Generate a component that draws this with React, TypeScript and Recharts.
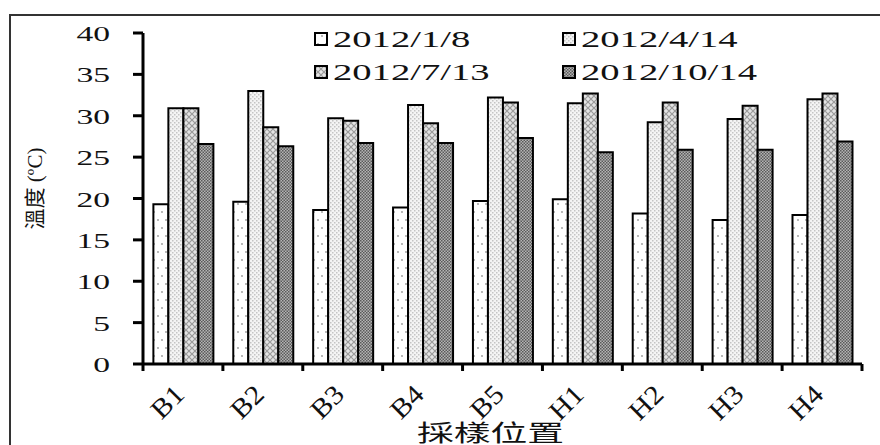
import React from 'react'
import { BarChart, Bar, XAxis, YAxis, Legend } from 'recharts'

const categories = ['B1', 'B2', 'B3', 'B4', 'B5', 'H1', 'H2', 'H3', 'H4']
const seriesNames = ['2012/1/8', '2012/4/14', '2012/7/13', '2012/10/14']
const jan = [19.3, 19.6, 18.6, 18.9, 19.7, 19.9, 18.2, 17.4, 18.0]
const apr = [30.9, 33.0, 29.7, 31.3, 32.2, 31.5, 29.2, 29.6, 32.0]
const jul = [30.9, 28.6, 29.4, 29.1, 31.6, 32.7, 31.6, 31.2, 32.7]
const oct = [26.6, 26.3, 26.7, 26.7, 27.3, 25.6, 25.9, 25.9, 26.9]
const yTicks = [0, 5, 10, 15, 20, 25, 30, 35, 40]

const data = categories.map((site, i) => ({
    site,
    s0: jan[i],
    s1: apr[i],
    s2: jul[i],
    s3: oct[i]
}))

const FONT = '"Liberation Serif", "Noto Sans CJK TC", serif'
const fills = ['url(#patDots)', 'url(#patFine)', 'url(#patCross)', 'url(#patChecker)']

const YTick = ({ x, y, payload }: any) => (
    <text
        transform={`translate(${x},${y + 8}) scale(1.6,1)`}
        textAnchor="end"
        fontSize={21}
        fontFamily={FONT}
        fill="#111"
    >
        {payload.value}
    </text>
)

// rotated label plus Excel-style tick marks on the category boundaries
const XTick = ({ x, y, payload, index, width, visibleTicksCount }: any) => {
    const half = width / visibleTicksCount / 2
    const last = index === visibleTicksCount - 1
    return (
        <g>
            <line x1={x - half} y1={y} x2={x - half} y2={y + 7} stroke="#000" strokeWidth={3} />
            {last && <line x1={x + half} y1={y} x2={x + half} y2={y + 7} stroke="#000" strokeWidth={3} />}
            <text
                transform={`translate(${x + 3},${y + 32}) rotate(-45) scale(1.1,1)`}
                textAnchor="end"
                fontSize={27}
                fontFamily={FONT}
                fill="#111"
            >
                {payload.value}
            </text>
        </g>
    )
}

// legend laid out as a 2x2 grid, like the original
const renderLegend = () => (
    <svg width={880} height={90}>
        {seriesNames.map((name, i) => {
            const cx = i % 2 === 0 ? 315 : 563
            const cy = i < 2 ? 39 : 72
            return (
                <g key={name}>
                    <rect x={cx} y={cy - 6} width={12} height={12} fill={fills[i]} stroke="#000" strokeWidth={2} />
                    <text
                        transform={`translate(${cx + 18},${cy + 8}) scale(1.68,1)`}
                        fontSize={23}
                        fontFamily={FONT}
                        fill="#111"
                    >
                        {name}
                    </text>
                </g>
            )
        })}
    </svg>
)

export default function App() {
    return (
        <div style={{ position: 'relative', width: 880, height: 445, overflow: 'hidden', background: '#fff' }}>
            <style>{'body{margin:0}'}</style>
            <div
                style={{
                    position: 'absolute',
                    left: 9,
                    top: 14,
                    width: 900,
                    height: 500,
                    borderLeft: '2px solid #333',
                    borderTop: '2px solid #333'
                }}
            />
            <BarChart
                width={880}
                height={445}
                data={data}
                margin={{ top: 33, right: 18, left: 0, bottom: 0 }}
                barCategoryGap="13%"
                barGap={0}
            >
                <defs>
                    <pattern id="patDots" width={8} height={16} patternUnits="userSpaceOnUse">
                        <rect width={8} height={16} fill="#fff" />
                        <circle cx={2} cy={4} r={0.9} fill="#999" />
                        <circle cx={6} cy={12} r={0.9} fill="#999" />
                    </pattern>
                    <pattern id="patFine" width={4} height={4} patternUnits="userSpaceOnUse">
                        <rect width={4} height={4} fill="#f4f4f4" />
                        <rect x={0} y={0} width={1.5} height={1.5} fill="#c4c4c4" />
                        <rect x={2} y={2} width={1.5} height={1.5} fill="#c4c4c4" />
                    </pattern>
                    <pattern id="patCross" width={6} height={6} patternUnits="userSpaceOnUse">
                        <rect width={6} height={6} fill="#e4e4e4" />
                        <path d="M0,0 L6,6 M6,0 L0,6" stroke="#999" strokeWidth={1.2} />
                    </pattern>
                    <pattern id="patChecker" width={3} height={3} patternUnits="userSpaceOnUse">
                        <rect width={3} height={3} fill="#b4b4b4" />
                        <rect x={0} y={0} width={1.5} height={1.5} fill="#5a5a5a" />
                        <rect x={1.5} y={1.5} width={1.5} height={1.5} fill="#5a5a5a" />
                    </pattern>
                </defs>
                <XAxis
                    dataKey="site"
                    height={81}
                    tickLine={false}
                    tickSize={0}
                    tickMargin={0}
                    axisLine={{ stroke: '#000', strokeWidth: 3 }}
                    tick={<XTick />}
                    interval={0}
                    label={({ viewBox }: any) => (
                        <text
                            transform={`translate(${viewBox.x + viewBox.width / 2 - 12},${441}) scale(1.6,1)`}
                            textAnchor="middle"
                            fontSize={23}
                            fontFamily={FONT}
                            fill="#111"
                        >
                            採樣位置
                        </text>
                    )}
                />
                <YAxis
                    width={143}
                    domain={[0, 40]}
                    ticks={yTicks}
                    interval={0}
                    tickSize={10}
                    tickMargin={23}
                    axisLine={{ stroke: '#000', strokeWidth: 3 }}
                    tickLine={{ stroke: '#000', strokeWidth: 3 }}
                    tick={<YTick />}
                    label={({ viewBox }: any) => (
                        <text
                            transform={`translate(${35},${viewBox.y + viewBox.height / 2 - 10}) rotate(-90)`}
                            textAnchor="middle"
                            dominantBaseline="central"
                            fontSize={21}
                            fontFamily={FONT}
                            fill="#111"
                        >
                            溫度 (ºC)
                        </text>
                    )}
                />
                <Legend
                    verticalAlign="middle"
                    align="center"
                    layout="horizontal"
                    wrapperStyle={{ top: 0, left: 0, width: 880, height: 90 }}
                    content={renderLegend}
                />
                {seriesNames.map((name, i) => (
                    <Bar
                        key={name}
                        dataKey={`s${i}`}
                        name={name}
                        fill={fills[i]}
                        stroke="#000"
                        strokeWidth={2}
                        isAnimationActive={false}
                    />
                ))}
            </BarChart>
        </div>
    )
}
